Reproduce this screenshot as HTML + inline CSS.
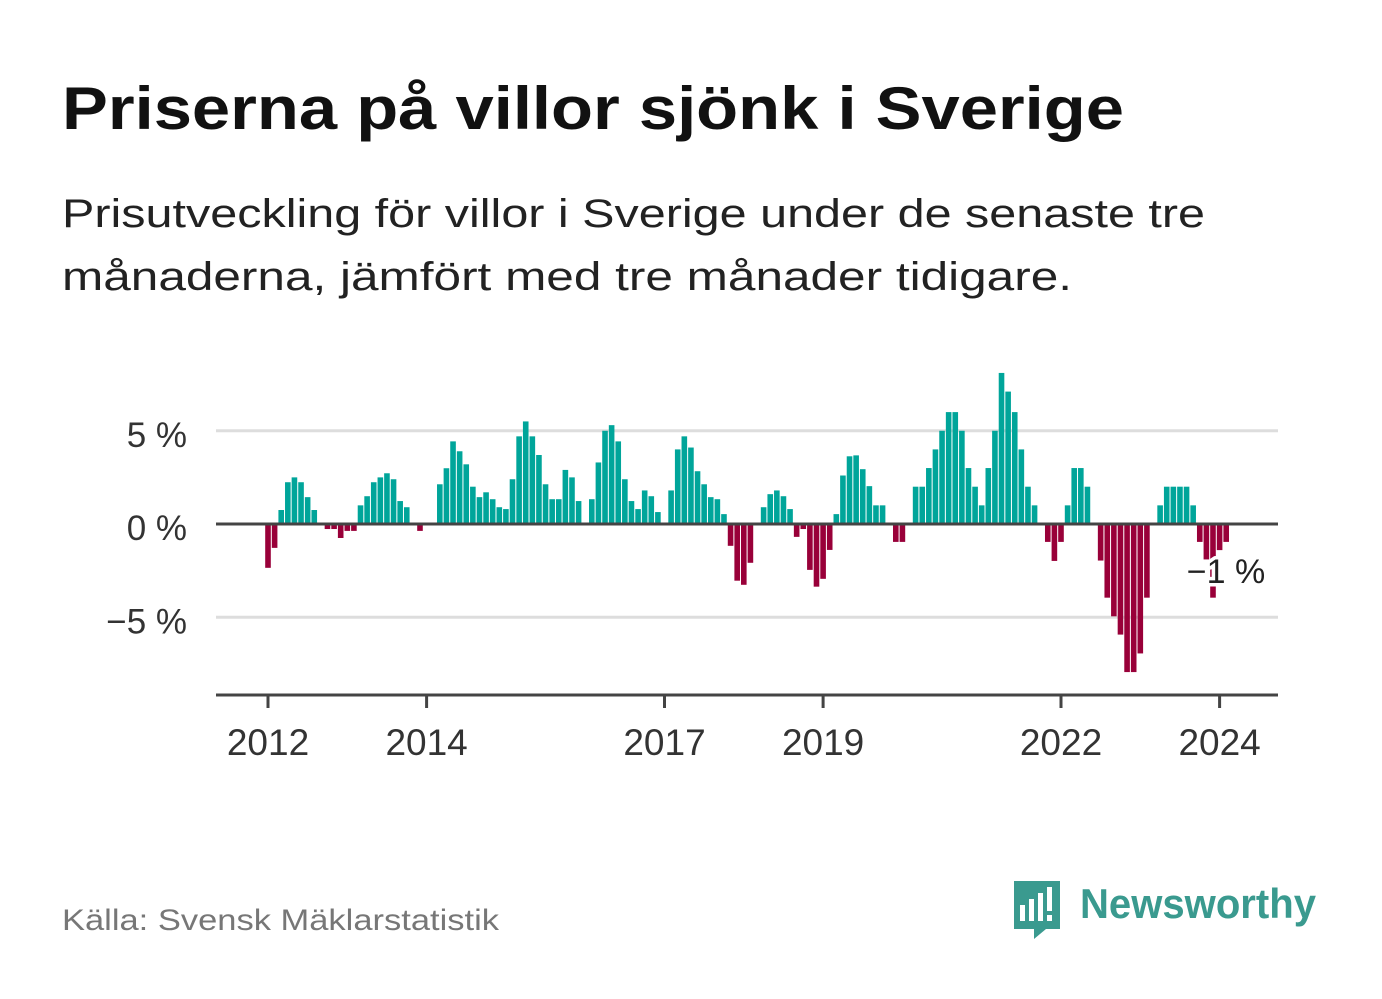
<!DOCTYPE html>
<html><head><meta charset="utf-8"><style>
html,body{margin:0;padding:0;background:#fff;}
svg{display:block;font-family:"Liberation Sans",sans-serif;}
</style></head><body>
<svg id="chart" width="1382" height="999" viewBox="0 0 1382 999" xmlns="http://www.w3.org/2000/svg">
<text x="62" y="129" font-size="60" font-weight="bold" fill="#111" textLength="1062" lengthAdjust="spacingAndGlyphs">Priserna på villor sjönk i Sverige</text>
<text x="62" y="227" font-size="40" fill="#222" textLength="1143" lengthAdjust="spacingAndGlyphs">Prisutveckling för villor i Sverige under de senaste tre</text>
<text x="62" y="290" font-size="40" fill="#222" textLength="1010" lengthAdjust="spacingAndGlyphs">månaderna, jämfört med tre månader tidigare.</text>
<g id="grid"></g>
<g id="bars"></g>
<g id="axes"></g>
<text x="1226" y="583" font-size="34" fill="#222" text-anchor="middle" stroke="#fff" stroke-width="7" paint-order="stroke" stroke-linejoin="round">−1 %</text>
<text x="62" y="930" font-size="30" fill="#777" textLength="437" lengthAdjust="spacingAndGlyphs">Källa: Svensk Mäklarstatistik</text>
<g>
<path d="M1014 881 h46 v48 h-14 l-12 10 v-10 h-20 z" fill="#3a9a8f"/>
<rect x="1020" y="905" width="5" height="16" fill="#fff"/>
<rect x="1029" y="899" width="5" height="22" fill="#fff"/>
<rect x="1038" y="893" width="5" height="28" fill="#fff"/>
<rect x="1047" y="887" width="5" height="24" fill="#fff"/>
<rect x="1047" y="915" width="5" height="6" fill="#fff"/>
<text x="1080" y="918" font-size="42" font-weight="bold" fill="#3a9a8f" textLength="236" lengthAdjust="spacingAndGlyphs">Newsworthy</text>
</g>
</svg>
<script>
const values = [-2.35,-1.28,0.75,2.24,2.5,2.24,1.44,0.75,0,-0.27,-0.27,-0.75,-0.37,-0.37,1.0,1.49,2.24,2.5,2.72,2.4,1.23,0.9,0,-0.37,0,0,2.13,2.99,4.43,3.9,3.2,2.0,1.44,1.7,1.33,0.9,0.8,2.4,4.7,5.5,4.7,3.7,2.13,1.33,1.33,2.9,2.5,1.23,0,1.33,3.3,5.0,5.3,4.43,2.4,1.23,0.8,1.8,1.49,0.64,0,
1.8,4.0,4.7,4.1,2.83,2.13,1.44,1.33,0.53,-1.17,-3.04,-3.26,-2.08,0,0.9,1.6,1.8,1.49,0.8,-0.69,-0.27,-2.46,-3.36,-2.94,-1.39,0.53,2.6,3.63,3.68,2.94,2.03,1.0,1.0,0,-0.96,-0.96,0,2.0,2.0,3.0,4.0,5.0,6.0,6.0,5.0,3.0,2.0,1.0,3.0,5.0,8.1,7.1,6.0,4.0,2.0,1.0,0,-0.96,-1.98,-0.96,1.0,3.0,3.0,2.0,0,-1.96,-3.95,-4.95,-5.93,-7.94,-7.94,-6.94,-3.95,0,1.0,2.0,2.0,2.0,2.0,1.0,-0.96,-1.9,-3.95,-1.4,-0.96];
const startYear = 2012;
const yTicks = [5,0,-5];
const yTickLabels = ["5 %","0 %","−5 %"];
const xTickYears = [2012,2014,2017,2019,2022,2024];
const NS="http://www.w3.org/2000/svg";
function x(monthIndex){return 268 + monthIndex*(79.3/12);}
function xYear(yr){return x((yr-startYear)*12);}
function y(v){return 524 - v*18.65;}
const grid=document.getElementById('grid'), bars=document.getElementById('bars'), axes=document.getElementById('axes');
function mk(tag,attrs,parent){const e=document.createElementNS(NS,tag);for(const k in attrs)e.setAttribute(k,attrs[k]);parent.appendChild(e);return e;}
yTicks.forEach((t,i)=>{
  if(t!==0){const g=mk('line',{x1:216,x2:1278,y1:y(t),y2:y(t),stroke:'#ddd','stroke-width':3},grid);
  
  }
  const l=mk('text',{x:187,y:y(t)+16,'font-size':35,fill:'#333','text-anchor':'end'},axes);
  
  
  l.textContent=yTickLabels[i];
});
values.forEach((v,i)=>{
  if(v===0)return;
  const top=Math.min(y(v),y(0)), h=Math.abs(y(v)-y(0));
  const r=mk('rect',{x:x(i)-2.8,y:top,width:5.6,height:h,fill:v>0?'#00a59a':'#990039'},bars);
  
  
});
const z=mk('line',{x1:216,x2:1278,y1:y(0),y2:y(0),stroke:'#444','stroke-width':3},axes);


const xa=mk('line',{x1:216,x2:1278,y1:695,y2:695,stroke:'#444','stroke-width':3},axes);


xTickYears.forEach(yr=>{
  const t=mk('line',{x1:xYear(yr),x2:xYear(yr),y1:695,y2:708,stroke:'#444','stroke-width':3},axes);
  
  
  const l=mk('text',{x:xYear(yr),y:755,'font-size':37,fill:'#333','text-anchor':'middle'},axes);
  
  
  l.textContent=yr;
});
</script>
</body></html>
